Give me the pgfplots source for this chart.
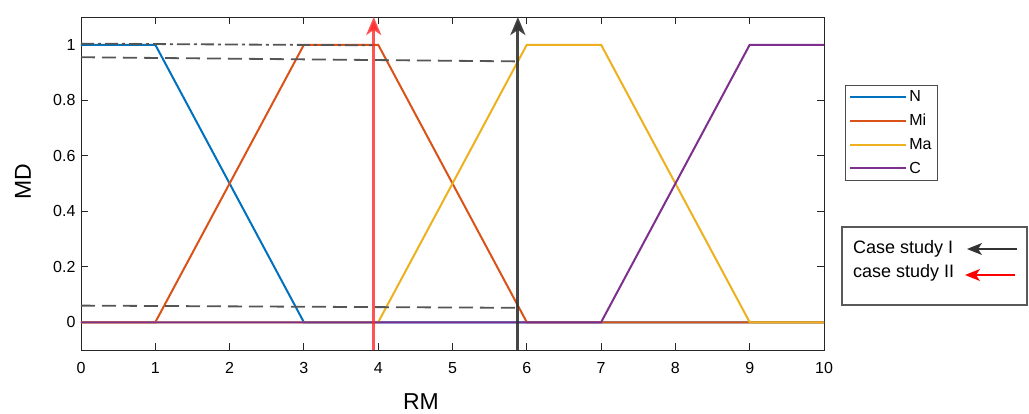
\documentclass[border=0pt]{standalone}
\usepackage{pgfplots}
\pgfplotsset{compat=1.18}
\usetikzlibrary{arrows.meta}
\usepackage{fontspec}
\setmainfont{Liberation Sans}

\definecolor{colN}{RGB}{0,114,189}
\definecolor{colMi}{RGB}{217,83,25}
\definecolor{colMa}{RGB}{237,177,32}
\definecolor{colC}{RGB}{126,47,142}
\definecolor{caseRed}{RGB}{255,40,40}
\definecolor{caseBlk}{RGB}{50,50,50}
\definecolor{guide}{RGB}{85,85,85}

\begin{document}
\begin{tikzpicture}
\begin{axis}[
    scale only axis, width=743pt, height=333pt,
    xmin=0, xmax=10, ymin=-0.1, ymax=1.1,
    xtick={0,1,...,10},
    ytick={0,0.2,0.4,0.6,0.8,1},
    yticklabels={0,0.2,0.4,0.6,0.8,1},
    /pgf/number format/assume math mode=true,
    tick label style={font=\fontsize{16}{16}\selectfont},
    xticklabel style={yshift=-9pt},
    yticklabel style={xshift=-2pt},
    major tick length=7pt,
    axis line style={black!85, line width=0.9pt},
    every tick/.style={black!85, line width=0.9pt},
    xlabel={RM}, ylabel={MD},
    label style={font=\fontsize{23}{23}\selectfont},
    xlabel style={at={(axis description cs:0.4576,-0.180)}, anchor=base},
    ylabel style={at={(axis description cs:-0.078,0.5045)}, anchor=center, rotate=0},
    legend style={at={(rel axis cs:1.028,0.796)}, anchor=north west,
        draw=black!70, line width=0.9pt, font=\fontsize{16}{16}\selectfont,
        inner xsep=4pt, inner ysep=3.5pt, row sep=7pt, column sep=0pt,
        nodes={inner sep=2pt}},
    legend cell align=left,
    legend image code/.code={\draw[#1, line width=2pt] (0pt,0pt) -- (56pt,0pt);},
    clip=false,
]
  % membership functions
  \addplot[colN, line width=2pt] coordinates {(0,1) (1,1) (3,0) (10,0)};
  \addlegendentry{N}
  \addplot[colMi, line width=2pt] coordinates {(0,0) (1,0) (3,1) (4,1) (6,0) (10,0)};
  \addlegendentry{Mi}
  \addplot[colMa, line width=2pt] coordinates {(0,0) (4,0) (6,1) (7,1) (9,0) (10,0)};
  \addlegendentry{Ma}
  \addplot[colC, line width=2pt] coordinates {(0,0) (7,0) (9,1) (10,1)};
  \addlegendentry{C}

  % guide lines
  \addplot[guide, line width=1.8pt, dash pattern=on 13pt off 4pt on 3pt off 4pt, forget plot]
    coordinates {(0,1.004) (3.94,0.998)};
  \addplot[guide, line width=1.8pt, dash pattern=on 14pt off 7pt, forget plot]
    coordinates {(0,0.955) (5.88,0.940)};
  \addplot[guide, line width=1.8pt, dash pattern=on 14pt off 7pt, forget plot]
    coordinates {(0,0.060) (5.88,0.052)};

  % case study arrows
  \addplot[caseRed, opacity=0.8, line width=3pt, forget plot,
    -{Stealth[length=18pt, width=15pt, inset=5pt]}]
    coordinates {(3.94,-0.1) (3.94,1.1)};
  \addplot[caseBlk, opacity=0.9, line width=3pt, forget plot,
    -{Stealth[length=18pt, width=15pt, inset=5pt]}]
    coordinates {(5.88,-0.1) (5.88,1.1)};

  \coordinate (SW) at (rel axis cs:0,0);
\end{axis}

% second legend box
\draw[black!65, line width=1.8pt] ([shift={(761pt,45pt)}]SW) rectangle ([shift={(946pt,123pt)}]SW);
\node[anchor=base west, inner sep=0pt, font=\fontsize{18}{18}\selectfont]
  at ([shift={(772pt,97pt)}]SW) {Case study I};
\node[anchor=base west, inner sep=0pt, font=\fontsize{18}{18}\selectfont]
  at ([shift={(772pt,73pt)}]SW) {case study II};
\draw[black!80, line width=1.1pt, -{Stealth[length=15pt, width=12pt, inset=4pt]}]
  ([shift={(936pt,101pt)}]SW) -- ([shift={(886pt,101pt)}]SW);
\draw[red, line width=1.5pt, -{Stealth[length=15pt, width=12pt, inset=4pt]}]
  ([shift={(934pt,75pt)}]SW) -- ([shift={(884pt,75pt)}]SW);

% page extent
\path ([shift={(-81pt,-63pt)}]SW) rectangle ([shift={(948pt,350pt)}]SW);
\end{tikzpicture}
\end{document}
